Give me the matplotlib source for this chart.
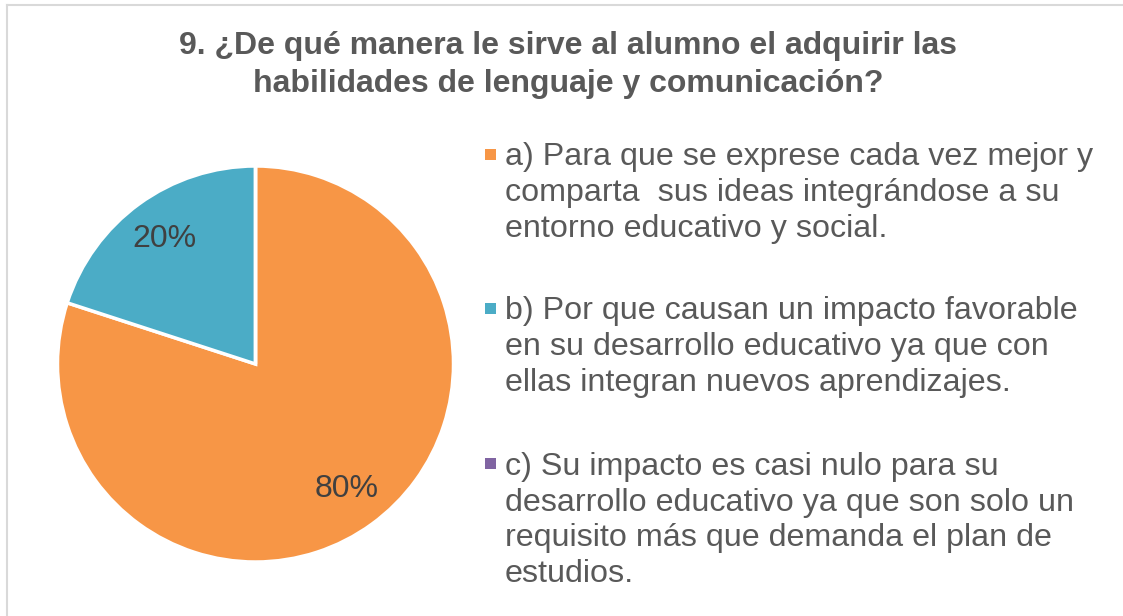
import matplotlib
matplotlib.use("Agg")
import matplotlib.pyplot as plt
from matplotlib.patches import Rectangle
from matplotlib.lines import Line2D

plt.rcParams['font.family'] = ['Liberation Sans', 'DejaVu Sans']

# datos de la pregunta 9
titulo = "9. ¿De qué manera le sirve al alumno el adquirir las\nhabilidades de lenguaje y comunicación?"
opciones = [
    "a) Para que se exprese cada vez mejor y\ncomparta  sus ideas integrándose a su\nentorno educativo y social.",
    "b) Por que causan un impacto favorable\nen su desarrollo educativo ya que con\nellas integran nuevos aprendizajes.",
    "c) Su impacto es casi nulo para su\ndesarrollo educativo ya que son solo un\nrequisito más que demanda el plan de\nestudios.",
]
porcentajes = [80, 20, 0]
colores = ['#F79646', '#4BACC6', '#8064A2']

W, H = 1123, 616
fig = plt.figure(figsize=(W / 100, H / 100), dpi=100)
fig.patch.set_facecolor('white')

# marco del grafico (solo se ve arriba y a la izquierda)
fig.add_artist(Line2D([7 / W, 7 / W], [0, 1 - 5 / H], color='#D9D9D9', lw=1.5))
fig.add_artist(Line2D([7 / W, 1], [1 - 5 / H, 1 - 5 / H], color='#D9D9D9', lw=1.5))

# va='baseline' en texto de varias lineas se alinea con la ultima linea
fig.text(568 / W, 1 - 92 / H, titulo, ha='center', va='baseline', fontsize=23,
         fontweight='bold', color='#595959', linespacing=1.34)

# pastel
cx, cy, r = 255.5, 364, 198
ax = fig.add_axes([(cx - r) / W, (H - cy - r) / H, 2 * r / W, 2 * r / H])
wedges, textos, autotextos = ax.pie(
    porcentajes, colors=colores, startangle=90, counterclock=False,
    autopct=lambda p: f'{p:.0f}%' if p > 0 else '', pctdistance=0.78,
    wedgeprops=dict(edgecolor='white', linewidth=2.5),
    textprops=dict(fontsize=23, color='#404040'))
ax.set_xlim(-1, 1)
ax.set_ylim(-1, 1)
ax.axis('off')

# leyenda a la derecha
paso = 36
y_base = [165, 319, 474]   # linea base de la primera linea de cada opcion
for texto, color, yb in zip(opciones, colores, y_base):
    ultima = yb + (texto.count('\n')) * paso
    fig.add_artist(Rectangle((485 / W, 1 - (yb - 5) / H), 11 / W, 11 / H,
                             transform=fig.transFigure, color=color, lw=0))
    fig.text(505 / W, 1 - ultima / H, texto, ha='left', va='baseline',
             fontsize=23.2, color='#595959', linespacing=1.25)

fig.savefig('out.png', dpi=100)
